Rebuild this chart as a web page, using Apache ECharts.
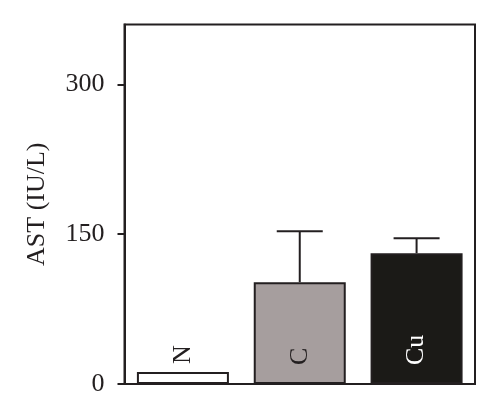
<!DOCTYPE html>
<html>
<head>
<meta charset="utf-8">
<script src="https://cdn.jsdelivr.net/npm/echarts@6/dist/echarts.min.js"></script>
<style>html,body{margin:0;padding:0;background:#fff;}#c{width:500px;height:416px;}</style>
</head>
<body>
<div id="c"></div>
<script>
const categories = ['N', 'C', 'Cu'];
const means = [12, 102, 131];
const errors = [0, 51, 15];
const barColors = ['#ffffff', '#a69e9e', '#1b1a17'];
const labelColors = ['#231f20', '#231f20', '#ffffff'];
const yTicks = [0, 150, 300];

const ink = '#231f20';
const font = 'Liberation Serif';

const chart = echarts.init(document.getElementById('c'));
chart.setOption({
  animation: false,
  grid: { left: 124.5, right: 25, top: 24.5, bottom: 32, show: true, borderColor: ink, borderWidth: 2, backgroundColor: 'transparent' },
  xAxis: {
    type: 'category', data: categories,
    axisLine: { lineStyle: { color: ink, width: 2 } },
    axisTick: { show: false }, axisLabel: { show: false }
  },
  yAxis: {
    type: 'value', min: 0, max: 360, interval: 150,
    name: 'AST (IU/L)', nameLocation: 'middle', nameGap: 74,
    nameTextStyle: { fontFamily: font, fontSize: 26, color: ink },
    axisLine: { show: true, lineStyle: { color: ink, width: 2 } },
    axisTick: { show: true, length: 7, lineStyle: { color: ink, width: 2 }, customValues: yTicks },
    axisLabel: { fontFamily: font, fontSize: 26, color: ink, margin: 20, customValues: yTicks },
    splitLine: { show: false }
  },
  series: [
    {
      type: 'bar', barWidth: 92,
      data: means.map((v, i) => ({
        value: v,
        itemStyle: { color: barColors[i], borderColor: ink, borderWidth: 2 },
        label: i === 0
          ? { show: true, position: 'top', distance: 8, rotate: 90, align: 'left', verticalAlign: 'middle', color: labelColors[i], fontFamily: font, fontSize: 26, formatter: categories[i] }
          : { show: true, position: 'insideBottom', distance: 19, rotate: 90, align: 'left', verticalAlign: 'middle', color: labelColors[i], fontFamily: font, fontSize: 26, formatter: categories[i] }
      })),
      z: 2
    },
    {
      type: 'custom',
      data: means.map((v, i) => [i, v, v + errors[i]]),
      renderItem: function (params, api) {
        if (api.value(2) === api.value(1)) return null;
        const base = api.coord([api.value(0), api.value(1)]);
        const top = api.coord([api.value(0), api.value(2)]);
        const hw = 23;
        const style = { stroke: ink, lineWidth: 2 };
        return {
          type: 'group',
          children: [
            { type: 'line', shape: { x1: base[0], y1: base[1], x2: top[0], y2: top[1] }, style: style },
            { type: 'line', shape: { x1: top[0] - hw, y1: top[1], x2: top[0] + hw, y2: top[1] }, style: style }
          ]
        };
      },
      z: 3
    }
  ]
});
</script>
</body>
</html>
